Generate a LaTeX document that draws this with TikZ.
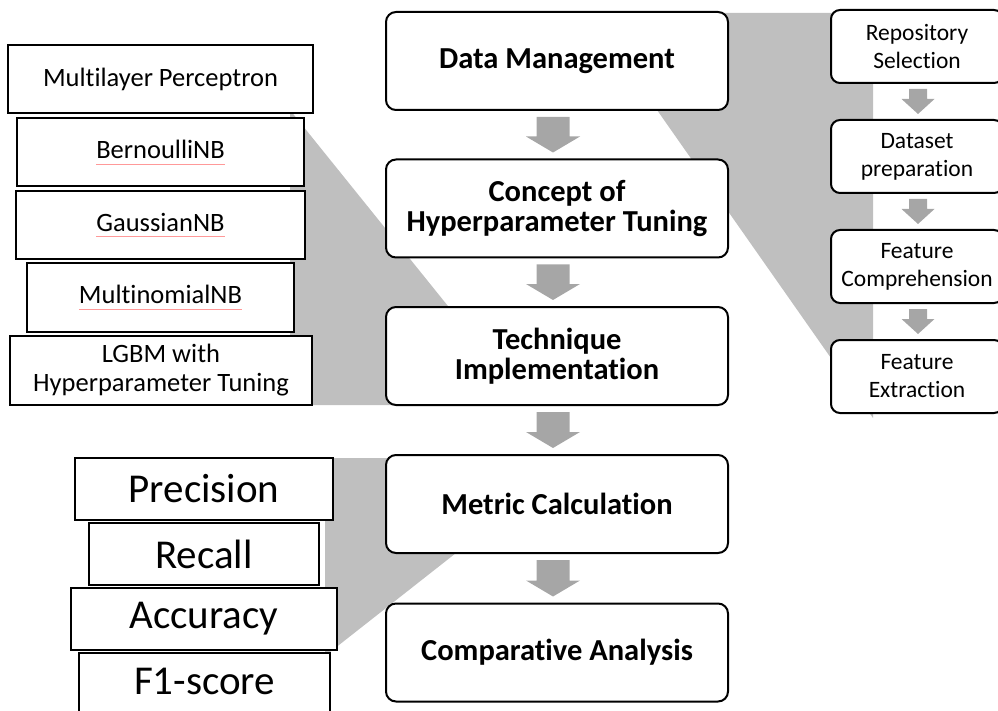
\documentclass[tikz,border=0pt]{standalone}
\usepackage{fontspec}
\setmainfont{Carlito}[Ligatures=NoCommon]
\usetikzlibrary{calc}
\definecolor{zoomgray}{HTML}{BFBFBF}
\definecolor{arrowgray}{HTML}{A6A6A6}
\newcommand{\spellul}[1]{\setbox0\hbox{#1}\rlap{\textcolor{red!40}{\rule[-0.22em]{\wd0}{0.6pt}}}\box0}
\newcommand{\blockarr}[7]{%
  \fill[arrowgray] ($(#1.south)+(#3-#4,#6)$) -- ($(#1.south)+(#3+#4,#6)$)
    -- ($(#2.north)+(#3+#4,-#6-#7)$) -- ($(#2.north)+(#3+#5,-#6-#7)$)
    -- ($(#2.north)+(#3,-#6)$) -- ($(#2.north)+(#3-#5,-#6-#7)$)
    -- ($(#2.north)+(#3-#4,-#6-#7)$) -- cycle;}
\tikzset{
  mainbox/.style={draw, line width=2pt, rounded corners=10pt, fill=white,
    minimum width=342, minimum height=98, align=center,
    font=\fontsize{30.5}{30}\selectfont\bfseries},
  subbox/.style={draw, line width=2pt, rounded corners=9pt, fill=white,
    minimum width=172, minimum height=73, align=center,
    font=\fontsize{23.5}{28}\selectfont},
  algbox/.style={draw, line width=2pt, fill=white, minimum height=68,
    align=center, font=\fontsize{26.5}{29}\selectfont},
  metbox/.style={draw, line width=2pt, fill=white, minimum height=62,
    align=center, font=\fontsize{41}{44}\selectfont},
  zoomband/.style={fill=zoomgray},
}
\begin{document}
\begin{tikzpicture}[x=1pt,y=-1pt]
\useasboundingbox (0,0) rectangle (998,711);
% zoom bands
\fill[zoomband] (700,13) -- (873,13) -- (873,418) -- (650,100) -- cycle;
\fill[zoomband] (290,110) -- (460,321) -- (460,405) -- (290,405) -- cycle;
\fill[zoomband] (325,458) -- (470,458) -- (470,542) -- (325,656) -- cycle;
% main column
\node[mainbox] (dm)  at (557,61)    {Data Management};
\node[mainbox] (cht) at (557,208.5) {Concept of\\Hyperparameter Tuning};
\node[mainbox] (ti)  at (557,356)   {Technique\\Implementation};
\node[mainbox] (mc)  at (557,504)   {Metric Calculation};
\node[mainbox] (ca)  at (557,652.5) {Comparative Analysis};
% right column
\node[subbox] (rs) at (917,46.5)  {Repository\\Selection};
\node[subbox] (dp) at (917,156.5) {Dataset\\preparation};
\node[subbox] (fc) at (917,266.5) {Feature\\Comprehension};
\node[subbox] (fe) at (917,376.5) {Feature\\Extraction};
% algorithms
\node[algbox, minimum width=305] (mlp) at (160.5,79)  {Multilayer Perceptron};
\node[algbox, minimum width=287] (bnb) at (160.5,152) {\spellul{BernoulliNB}};
\node[algbox, minimum width=289] (gnb) at (160.5,225) {\spellul{GaussianNB}};
\node[algbox, minimum width=267, minimum height=69] (mnb) at (160.5,297.5) {\spellul{MultinomialNB}};
\node[algbox, minimum width=302, minimum height=69] (lgbm) at (161,370.5) {LGBM with\\Hyperparameter Tuning};
% metrics
\node[metbox, minimum width=258] (prec) at (204,489) {Precision};
\node[metbox, minimum width=230] (rec)  at (204,554) {Recall};
\node[metbox, minimum width=266] (acc)  at (204,619) {Accuracy};
\node[metbox, minimum width=251] (f1)   at (204.5,684) {\raisebox{4.5pt}{F1-score}};
% block arrows
\blockarr{dm}{cht}{-4}{16.5}{27}{6}{16}
\blockarr{cht}{ti}{-4}{16.5}{27}{6}{16}
\blockarr{ti}{mc}{-4}{16.5}{27}{6}{16}
\blockarr{mc}{ca}{-4}{16.5}{27}{6}{16}
\blockarr{rs}{dp}{1}{9}{16.5}{5}{15}
\blockarr{dp}{fc}{1}{9}{16.5}{5}{15}
\blockarr{fc}{fe}{1}{9}{16.5}{5}{15}
\end{tikzpicture}
\end{document}
